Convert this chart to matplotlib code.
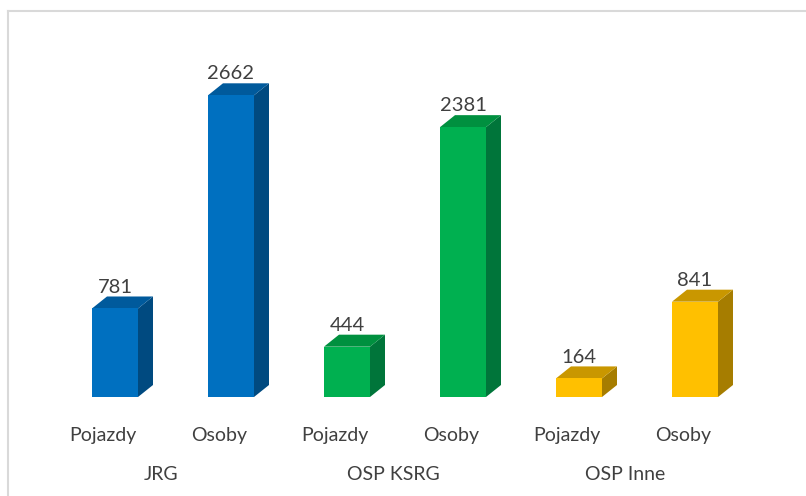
import matplotlib
matplotlib.use("Agg")
import matplotlib.pyplot as plt
from matplotlib.patches import Polygon
from matplotlib.lines import Line2D

groups = ["JRG", "OSP KSRG", "OSP Inne"]
subcats = ["Pojazdy", "Osoby"]
values_jrg = [781, 2662]
values_ksrg = [444, 2381]
values_inne = [164, 841]
front_colors = ["#0070C0", "#00B050", "#FFC000"]
top_colors = ["#005A9C", "#00903F", "#C99700"]
side_colors = ["#004A80", "#00753A", "#A67D00"]

all_values = [values_jrg, values_ksrg, values_inne]

W, H = 806, 496
fig = plt.figure(figsize=(W / 100, H / 100), dpi=100)
plt.rcParams['font.family'] = ['Lato', 'DejaVu Sans']

# frame border (light grey)
fig.add_artist(Line2D([8 / W, 1.0], [1 - 11 / H, 1 - 11 / H], color="#d9d9d9", lw=1.5, transform=fig.transFigure))
fig.add_artist(Line2D([8 / W, 8 / W], [0, 1 - 11 / H], color="#d9d9d9", lw=1.5, transform=fig.transFigure))

ax_left, ax_right = 45, 741
ax_bot, ax_top = 397, 57
ax = fig.add_axes([ax_left / W, (H - ax_bot) / H, (ax_right - ax_left) / W, (ax_bot - ax_top) / H])
ax.set_xlim(-0.5, 5.5)
ax.set_ylim(0, 3000)
ax.axis("off")

px_per_x = (ax_right - ax_left) / 6.0
px_per_y = (ax_bot - ax_top) / 3000.0
dx = 15 / px_per_x
dy = 12 / px_per_y
offset = 12 / px_per_x
bw = 46 / px_per_x

for gi, vals in enumerate(all_values):
    for si, v in enumerate(vals):
        xc = gi * 2 + si + offset
        xl, xr = xc - bw / 2, xc + bw / 2
        # side face
        ax.add_patch(Polygon([(xr, 0), (xr + dx, dy), (xr + dx, v + dy), (xr, v)],
                             closed=True, facecolor=side_colors[gi], edgecolor="none", zorder=2))
        # top face
        ax.add_patch(Polygon([(xl, v), (xl + dx, v + dy), (xr + dx, v + dy), (xr, v)],
                             closed=True, facecolor=top_colors[gi], edgecolor="none", zorder=2))
        # front face
        ax.bar(xc, v, width=bw, color=front_colors[gi], zorder=3)
        ax.text(xc, v + dy + 8, f"{v}", ha="center", va="bottom", fontsize=14.5, color="#404040", zorder=4)

# category labels
for gi, g in enumerate(groups):
    for si, s in enumerate(subcats):
        xpos = gi * 2 + si
        fig.text((ax_left + (xpos + 0.5) * px_per_x) / W, 1 - 435 / H, s,
                 ha="center", va="center", fontsize=14, color="#404040")
    fig.text((ax_left + (gi * 2 + 1.0) * px_per_x) / W, 1 - 474 / H, g,
             ha="center", va="center", fontsize=14, color="#404040")

fig.savefig("out.png", dpi=100)
